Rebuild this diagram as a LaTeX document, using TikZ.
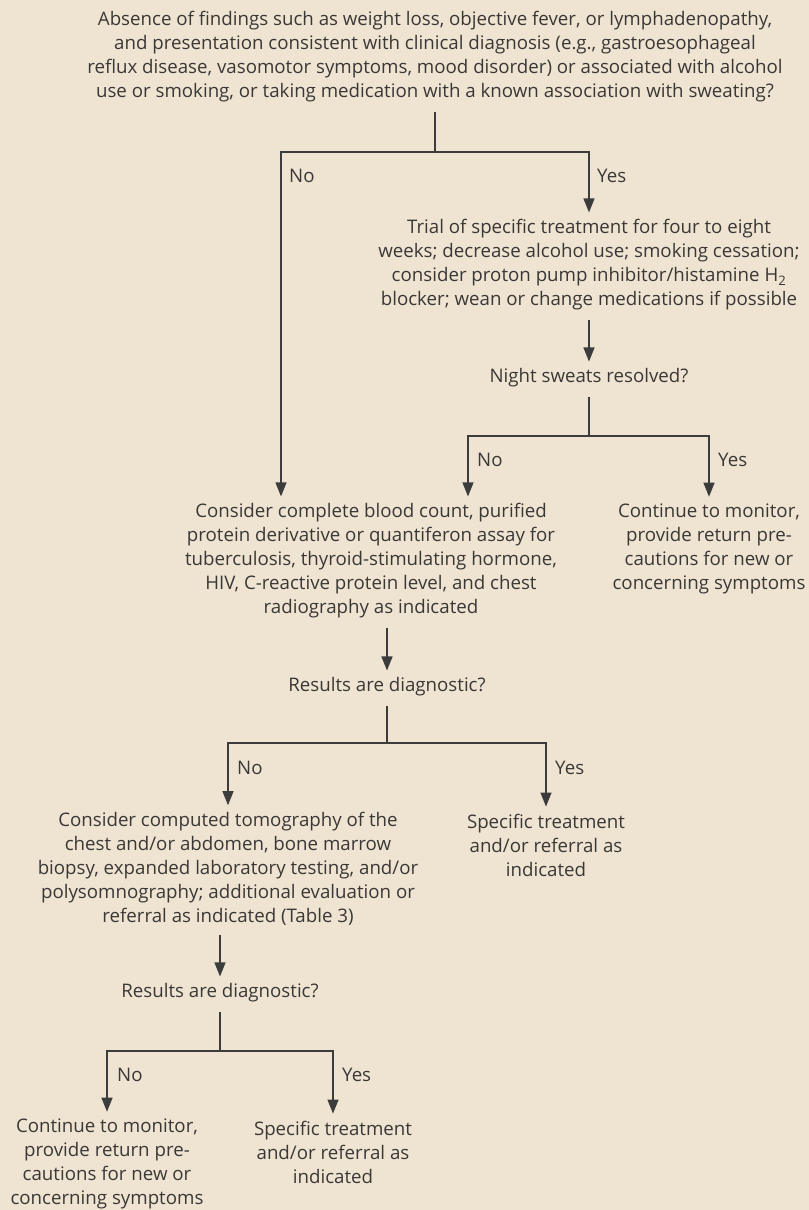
\documentclass[tikz,border=0pt]{standalone}
\usepackage{fontspec}
\setmainfont{Open Sans}
\usetikzlibrary{arrows.meta}
\definecolor{bg}{HTML}{EFE4D1}
\definecolor{ink}{HTML}{3A3837}
\definecolor{lnc}{HTML}{3C3C3C}
\begin{document}
\begin{tikzpicture}[x=1bp,y=-1bp,
  txt/.style={align=center, inner sep=0pt, text=ink, font=\fontsize{18.7bp}{24bp}\selectfont},
  lbl/.style={anchor=west, inner sep=0pt, text=ink, font=\fontsize{18.7bp}{24bp}\selectfont},
  ln/.style={draw=lnc, line width=1.3bp},
  fromn/.style={shorten <=9bp},
  arr/.style={ln, -{Triangle[length=14bp,width=11bp]}, shorten >=7bp}]
\fill[bg] (0,0) rectangle (809,1210);
\useasboundingbox (0,0) rectangle (809,1210);

\node[txt] (q1) at (435,57) {Absence of findings such as weight loss, objective fever, or lymphadenopathy,\\and presentation consistent with clinical diagnosis (e.g., gastroesophageal\\reflux disease, vasomotor symptoms, mood disorder) or associated with alcohol\\use or smoking, or taking medication with a known association with sweating?};
\node[txt] (trial) at (589,265) {Trial of specific treatment for four to eight\\weeks; decrease alcohol use; smoking cessation;\\consider proton pump inhibitor/histamine H\textsubscript{2}\\blocker; wean or change medications if possible};
\node[txt] (night) at (589,378) {Night sweats resolved?};
\node[txt] (c1) at (371,561) {Consider complete blood count, purified\\protein derivative or quantiferon assay for\\tuberculosis, thyroid-stimulating hormone,\\HIV, C-reactive protein level, and chest\\radiography as indicated};
\node[txt] (mon1) at (709,549) {Continue to monitor,\\provide return pre-\\cautions for new or\\concerning symptoms};
\node[txt] (r1) at (387,687) {Results are diagnostic?};
\node[txt] (ct) at (228,869) {Consider computed tomography of the\\chest and/or abdomen, bone marrow\\biopsy, expanded laboratory testing, and/or\\polysomnography; additional evaluation or\\referral as indicated (Table 3)};
\node[txt] (spec1) at (546,845) {Specific treatment\\and/or referral as\\indicated};
\node[txt] (r2) at (220,993) {Results are diagnostic?};
\node[txt] (mon2) at (107,1164) {Continue to monitor,\\provide return pre-\\cautions for new or\\concerning symptoms};
\node[txt] (spec2) at (333,1152) {Specific treatment\\and/or referral as\\indicated};

\node[lbl] (no1) at (289,176) {No};
\node[lbl] (yes1) at (597,176) {Yes};
\node[lbl] (no2) at (477,460) {No};
\node[lbl] (yes2) at (718,460) {Yes};
\node[lbl] (no3) at (237,768) {No};
\node[lbl] (yes3) at (555,768) {Yes};
\node[lbl] (no4) at (117,1075) {No};
\node[lbl] (yes4) at (342,1075) {Yes};

\coordinate (j1) at (435,152);
\coordinate (L1) at (281,152);
\coordinate (R1) at (589,152);
\coordinate (j2) at (589,436);
\coordinate (L2) at (468,436);
\coordinate (R2) at (709,436);
\coordinate (j3) at (387,743);
\coordinate (L3) at (228,743);
\coordinate (R3) at (546,743);
\coordinate (j4) at (220,1051);
\coordinate (L4) at (107,1051);
\coordinate (R4) at (333,1051);

\draw[ln, fromn] (q1.south) -- (j1);
\draw[arr] (j1) -- (L1) -- (c1.north -| L1);
\draw[arr] (j1) -- (R1) -- (trial.north);
\draw[arr, fromn] (trial.south) -- (night.north);
\draw[ln, fromn] (night.south) -- (j2);
\draw[arr] (j2) -- (L2) -- (c1.north -| L2);
\draw[arr] (j2) -- (R2) -- (mon1.north);
\draw[arr, fromn] (c1.south -| r1.north) -- (r1.north);
\draw[ln, fromn] (r1.south) -- (j3);
\draw[arr] (j3) -- (L3) -- (ct.north);
\draw[arr] (j3) -- (R3) -- (spec1.north);
\draw[arr, fromn] (ct.south -| r2.north) -- (r2.north);
\draw[ln, fromn] (r2.south) -- (j4);
\draw[arr] (j4) -- (L4) -- (mon2.north);
\draw[arr] (j4) -- (R4) -- (spec2.north);
\end{tikzpicture}
\end{document}
